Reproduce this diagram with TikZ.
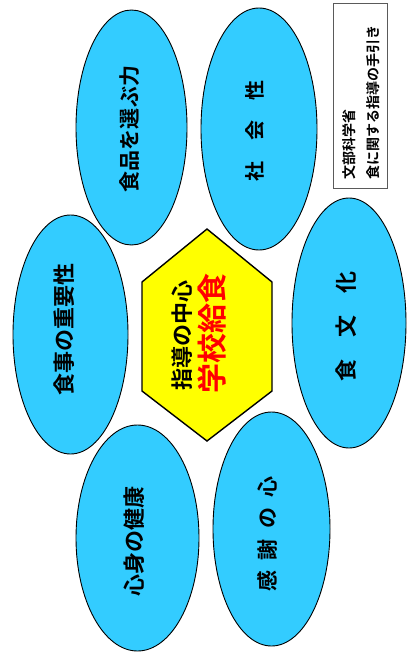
\documentclass[tikz,border=0pt]{standalone}
\usepackage{fontspec}
\newfontfamily\jp{Noto Sans CJK JP}[BoldFont={Noto Sans CJK JP Bold}]
\usetikzlibrary{shapes.geometric}
\definecolor{sky}{RGB}{51,204,255}
\definecolor{hexy}{RGB}{255,255,0}
\definecolor{boxline}{RGB}{90,90,90}
\newcommand{\fsz}[1]{\fontsize{#1}{#1}\selectfont}
\begin{document}
\begin{tikzpicture}[x=1pt,y=-1pt,
  oval/.style={ellipse, draw=black, line width=0.9pt, fill=sky, inner sep=0pt},
  lbl/.style={rotate=90, inner sep=0pt, font=\jp\bfseries},
]
\useasboundingbox (0,0) rectangle (409,655);
% ellipses
\node[oval, minimum width=111pt, minimum height=235pt] (e1) at (131.5,127.5) {};
\node[oval, minimum width=116pt, minimum height=242pt] (e2) at (259,129) {};
\node[oval, minimum width=115pt, minimum height=239pt] (e3) at (70.5,334.5) {};
\node[oval, minimum width=114pt, minimum height=250pt] (e4) at (349,323) {};
\node[oval, minimum width=123pt, minimum height=226pt] (e5) at (137.5,538) {};
\node[oval, minimum width=117pt, minimum height=234pt] (e6) at (271.5,529) {};
% hexagon
\coordinate (h1) at (207,229);
\coordinate (h2) at (272,282);
\coordinate (h3) at (272,391);
\coordinate (h4) at (207,441);
\coordinate (h5) at (142,391);
\coordinate (h6) at (142,282);
\draw[fill=hexy, line width=1.4pt, line join=miter] (h1) -- (h2) -- (h3) -- (h4) -- (h5) -- (h6) -- cycle;
% labels
\node[lbl, font=\jp\bfseries\fsz{21pt}] (t1) at (130,129) {食品を選ぶ力};
\node[lbl, font=\jp\bfseries\fsz{20pt}] (t2) at (255,131) {社　会　性};
\node[lbl, font=\jp\bfseries\fsz{22pt}] (t3) at (64,329) {食事の重要性};
\node[lbl, font=\jp\bfseries\fsz{22pt}] (t4) at (346,326) {食　文　化};
\node[lbl, font=\jp\bfseries\fsz{22pt}] (t5) at (134,541) {心身の健康};
\node[lbl, font=\jp\bfseries\fsz{21pt}] (t6) at (267,534) {感\hspace{0.5em}謝\hspace{0.5em}の\hspace{0.5em}心};
\node[lbl, font=\jp\bfseries\fsz{22pt}] (t7) at (182,335) {指導の中心};
\node[lbl, font=\jp\bfseries\fsz{30pt}, text=red] (t8) at (212,333) {学校給食};
% reference box
\draw[boxline, line width=0.8pt] (333,3) rectangle (387,188);
\node[lbl, font=\jp\bfseries\fsz{14pt}, anchor=west] (t9) at (349,180) {文部科学省};
\node[lbl, font=\jp\bfseries\fsz{14pt}, anchor=west] (t10) at (373,180) {食に関する指導の手引き};
\end{tikzpicture}
\end{document}
